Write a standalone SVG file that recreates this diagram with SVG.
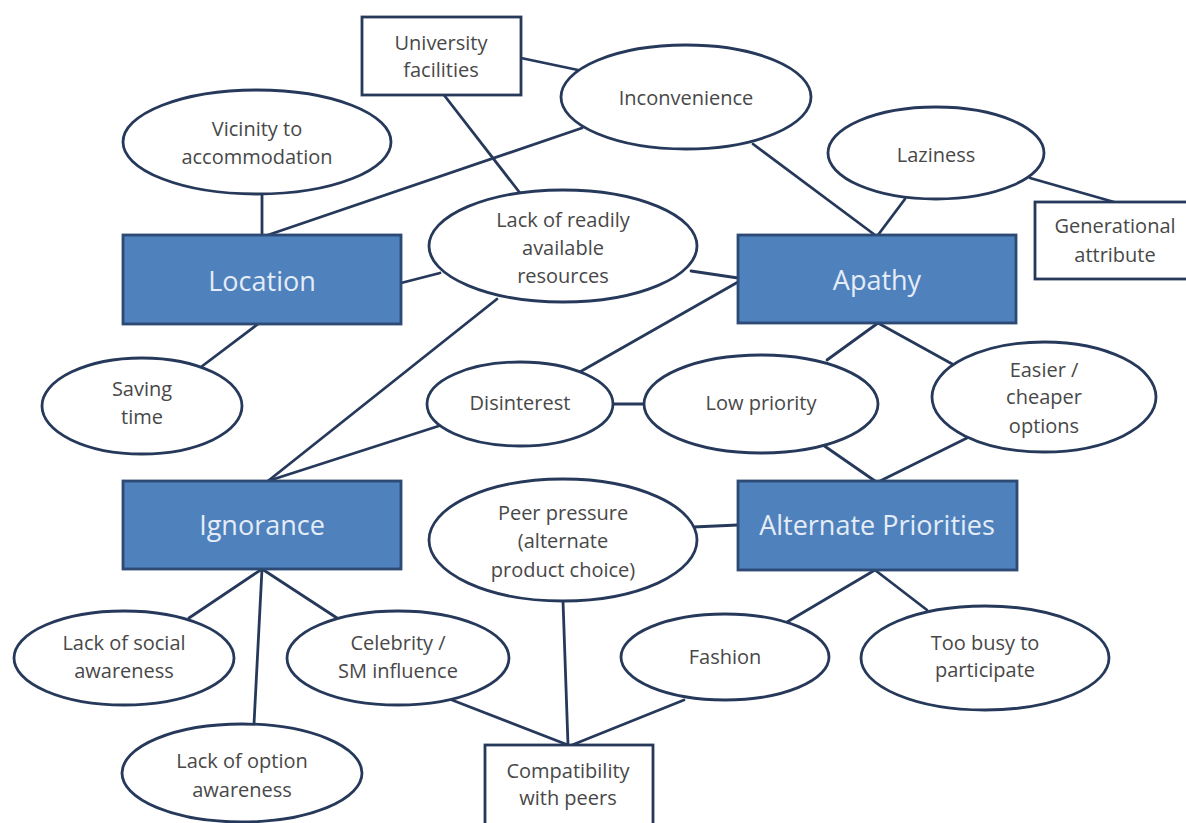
<svg xmlns="http://www.w3.org/2000/svg" width="1186" height="823" viewBox="0 0 1186 823">
  <style>
    .bg { fill: #ffffff; }
    .edge { stroke: #26395a; stroke-width: 2.8; fill: none; stroke-linecap: round; }
    .oval { fill: #ffffff; stroke: #26395a; stroke-width: 2.8; }
    .box { fill: #ffffff; stroke: #26395a; stroke-width: 2.8; }
    .core { fill: #4f81bd; stroke: #2c4a73; stroke-width: 2.8; }
    .lbl { font-family: "Open Sans", "Noto Sans", "Liberation Sans", sans-serif; font-size: 20px; fill: #484848; text-anchor: middle; }
    .head { font-family: "Open Sans", "Noto Sans", "Liberation Sans", sans-serif; font-size: 27px; fill: #e4ecf7; text-anchor: middle; }
  </style>
  <rect class="bg" x="0" y="0" width="1186" height="823"/>

  <g id="connectors">
    <line class="edge" x1="521" y1="58" x2="578" y2="70"/>
    <line class="edge" x1="444" y1="95" x2="520" y2="193"/>
    <line class="edge" x1="582" y1="128" x2="268" y2="235"/>
    <line class="edge" x1="262" y1="194" x2="262" y2="235"/>
    <line class="edge" x1="401" y1="283" x2="440" y2="273"/>
    <line class="edge" x1="258" y1="324" x2="201" y2="367"/>
    <line class="edge" x1="497" y1="299" x2="268" y2="481"/>
    <line class="edge" x1="753" y1="144" x2="875" y2="235"/>
    <line class="edge" x1="905" y1="199" x2="878" y2="235"/>
    <line class="edge" x1="1030" y1="178" x2="1114" y2="202"/>
    <line class="edge" x1="691" y1="271" x2="738" y2="278"/>
    <line class="edge" x1="738" y1="282" x2="578" y2="373"/>
    <line class="edge" x1="878" y1="323" x2="827" y2="360"/>
    <line class="edge" x1="878" y1="323" x2="954" y2="365"/>
    <line class="edge" x1="613" y1="404" x2="645" y2="404"/>
    <line class="edge" x1="448" y1="423" x2="268" y2="481"/>
    <line class="edge" x1="823" y1="445" x2="875" y2="481"/>
    <line class="edge" x1="967" y1="438" x2="880" y2="481"/>
    <line class="edge" x1="693" y1="527" x2="738" y2="525"/>
    <line class="edge" x1="262" y1="569" x2="189" y2="618"/>
    <line class="edge" x1="262" y1="569" x2="254" y2="724"/>
    <line class="edge" x1="262" y1="569" x2="337" y2="618"/>
    <line class="edge" x1="875" y1="570" x2="787" y2="622"/>
    <line class="edge" x1="875" y1="570" x2="927" y2="610"/>
    <line class="edge" x1="563" y1="601" x2="568" y2="745"/>
    <line class="edge" x1="452" y1="700" x2="568" y2="745"/>
    <line class="edge" x1="684" y1="700" x2="572" y2="745"/>
  </g>

  <g id="university-facilities">
    <rect class="box" x="362" y="17" width="159" height="78"/>
    <text class="lbl" x="441" y="50">University</text>
    <text class="lbl" x="441" y="77">facilities</text>
  </g>

  <g id="inconvenience">
    <ellipse class="oval" cx="686" cy="97" rx="125" ry="52"/>
    <text class="lbl" x="686" y="105">Inconvenience</text>
  </g>

  <g id="vicinity">
    <ellipse class="oval" cx="257" cy="142" rx="134" ry="52"/>
    <text class="lbl" x="257" y="136">Vicinity to</text>
    <text class="lbl" x="257" y="164">accommodation</text>
  </g>

  <g id="laziness">
    <ellipse class="oval" cx="936" cy="153" rx="108" ry="46"/>
    <text class="lbl" x="936" y="162">Laziness</text>
  </g>

  <!-- box runs past the right edge of the canvas -->
  <g id="generational-attribute">
    <rect class="box" x="1035" y="202" width="160" height="77"/>
    <text class="lbl" x="1115" y="233">Generational</text>
    <text class="lbl" x="1115" y="262">attribute</text>
  </g>

  <g id="lack-of-resources">
    <ellipse class="oval" cx="563" cy="246" rx="134" ry="56"/>
    <text class="lbl" x="563" y="227">Lack of readily</text>
    <text class="lbl" x="563" y="255">available</text>
    <text class="lbl" x="563" y="283">resources</text>
  </g>

  <g id="location">
    <rect class="core" x="123" y="235" width="278" height="89"/>
    <text class="head" x="262" y="291">Location</text>
  </g>

  <g id="apathy">
    <rect class="core" x="738" y="235" width="278" height="88"/>
    <text class="head" x="877" y="290">Apathy</text>
  </g>

  <g id="saving-time">
    <ellipse class="oval" cx="142" cy="406" rx="100" ry="48"/>
    <text class="lbl" x="142" y="396">Saving</text>
    <text class="lbl" x="142" y="424">time</text>
  </g>

  <g id="disinterest">
    <ellipse class="oval" cx="520" cy="404" rx="93" ry="42"/>
    <text class="lbl" x="520" y="410">Disinterest</text>
  </g>

  <g id="low-priority">
    <ellipse class="oval" cx="761" cy="404" rx="117" ry="49"/>
    <text class="lbl" x="761" y="410">Low priority</text>
  </g>

  <g id="easier-cheaper">
    <ellipse class="oval" cx="1044" cy="397" rx="112" ry="55"/>
    <text class="lbl" x="1044" y="377">Easier /</text>
    <text class="lbl" x="1044" y="404">cheaper</text>
    <text class="lbl" x="1044" y="433">options</text>
  </g>

  <g id="ignorance">
    <rect class="core" x="123" y="481" width="278" height="88"/>
    <text class="head" x="262" y="535">Ignorance</text>
  </g>

  <g id="peer-pressure">
    <ellipse class="oval" cx="563" cy="540" rx="134" ry="61"/>
    <text class="lbl" x="563" y="520">Peer pressure</text>
    <text class="lbl" x="563" y="548">(alternate</text>
    <text class="lbl" x="563" y="577">product choice)</text>
  </g>

  <g id="alternate-priorities">
    <rect class="core" x="738" y="481" width="279" height="89"/>
    <text class="head" x="877" y="535">Alternate Priorities</text>
  </g>

  <g id="lack-of-social-awareness">
    <ellipse class="oval" cx="124" cy="658" rx="110" ry="47"/>
    <text class="lbl" x="124" y="650">Lack of social</text>
    <text class="lbl" x="124" y="678">awareness</text>
  </g>

  <g id="celebrity-influence">
    <ellipse class="oval" cx="398" cy="658" rx="111" ry="47"/>
    <text class="lbl" x="398" y="650">Celebrity /</text>
    <text class="lbl" x="398" y="678">SM influence</text>
  </g>

  <g id="fashion">
    <ellipse class="oval" cx="725" cy="657" rx="104" ry="43"/>
    <text class="lbl" x="725" y="664">Fashion</text>
  </g>

  <g id="too-busy">
    <ellipse class="oval" cx="985" cy="658" rx="124" ry="52"/>
    <text class="lbl" x="985" y="650">Too busy to</text>
    <text class="lbl" x="985" y="677">participate</text>
  </g>

  <g id="lack-of-option-awareness">
    <ellipse class="oval" cx="242" cy="773" rx="120" ry="49"/>
    <text class="lbl" x="242" y="768">Lack of option</text>
    <text class="lbl" x="242" y="797">awareness</text>
  </g>

  <!-- box runs past the bottom edge of the canvas -->
  <g id="compatibility-with-peers">
    <rect class="box" x="485" y="745" width="168" height="90"/>
    <text class="lbl" x="568" y="778">Compatibility</text>
    <text class="lbl" x="568" y="805">with peers</text>
  </g>
</svg>
